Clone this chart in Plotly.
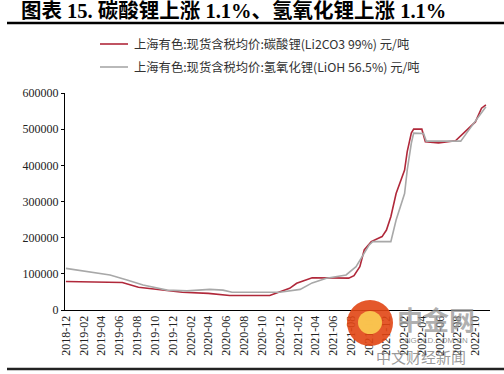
import plotly.graph_objects as go

# Lithium carbonate (Li2CO3 99%) price, yuan/ton
li2co3_dates = ["2018-12-01", "2019-03-01", "2019-06-12", "2019-08-06", "2019-10-19", "2020-01-03",
                "2020-04-01", "2020-06-13", "2020-10-28", "2020-12-01", "2021-01-04", "2021-01-28",
                "2021-03-01", "2021-03-22", "2021-07-25", "2021-08-12", "2021-09-01", "2021-09-16",
                "2021-10-10", "2021-11-16", "2021-12-01", "2021-12-16", "2022-01-03", "2022-01-21",
                "2022-02-01", "2022-02-10", "2022-02-24", "2022-03-04", "2022-04-01", "2022-04-13",
                "2022-05-28", "2022-07-25", "2022-08-28", "2022-10-01", "2022-10-22", "2022-11-06"]
li2co3_vals = [79000, 77000, 76000, 63000, 57000, 49000,
               46000, 40000, 40000, 49000, 60000, 74000,
               83000, 89000, 88000, 95000, 120000, 166000,
               189000, 203000, 221000, 258000, 322000, 359000,
               387000, 438000, 489000, 500000, 500000, 465000,
               462000, 468000, 493000, 520000, 558000, 567000]

# Lithium hydroxide (LiOH 56.5%) price, yuan/ton
lioh_dates = ["2018-12-01", "2019-02-24", "2019-05-01", "2019-06-28", "2019-08-22", "2019-11-12",
              "2020-01-19", "2020-04-06", "2020-05-21", "2020-06-21", "2020-12-01", "2021-02-09",
              "2021-03-22", "2021-05-10", "2021-07-16", "2021-08-19", "2021-10-03", "2021-10-15",
              "2021-12-16", "2022-01-03", "2022-01-21", "2022-02-01", "2022-02-10", "2022-02-24",
              "2022-03-04", "2022-04-07", "2022-04-16", "2022-08-12", "2022-09-09", "2022-10-13",
              "2022-11-06"]
lioh_vals = [115000, 106000, 97000, 83000, 69000, 55000,
             53000, 57000, 55000, 49000, 49000, 57000,
             75000, 88000, 97000, 120000, 180000, 189000,
             189000, 249000, 295000, 322000, 387000, 461000,
             489000, 488000, 467000, 467000, 498000, 534000,
             562000]

y_ticks = [0, 100000, 200000, 300000, 400000, 500000, 600000]

title_text = "图表 15. 碳酸锂上涨 1.1%、氢氧化锂上涨 1.1%"
name_red = "上海有色:现货含税均价:碳酸锂(Li2CO3 99%) 元/吨"
name_gray = "上海有色:现货含税均价:氢氧化锂(LiOH 56.5%) 元/吨"

RED = "#B0283A"
GRAY = "#A8A8A8"
font_main = "Noto Sans CJK SC"

fig = go.Figure()
fig.add_trace(go.Scatter(x=li2co3_dates, y=li2co3_vals, mode="lines", name=name_red,
                         line=dict(color=RED, width=1.6)))
fig.add_trace(go.Scatter(x=lioh_dates, y=lioh_vals, mode="lines", name=name_gray,
                         line=dict(color=GRAY, width=1.6)))

# plot area in page pixels: x 65..490, y 93..310
def px_x(p):
    return (p - 65) / 425.0

def px_y(p):
    return (310 - p) / 217.0

annotations = [
    dict(text="<b>" + title_text + "</b>", xref="paper", yref="paper",
         x=px_x(19), y=px_y(10), xanchor="left", yanchor="middle", showarrow=False,
         font=dict(family="Liberation Serif, Noto Sans CJK SC", size=20.5, color="black")),
    dict(text=name_red, xref="paper", yref="paper", x=px_x(132), y=px_y(44),
         xanchor="left", yanchor="middle", showarrow=False,
         font=dict(family=font_main, size=12.3, color="#333")),
    dict(text=name_gray, xref="paper", yref="paper", x=px_x(132), y=px_y(67),
         xanchor="left", yanchor="middle", showarrow=False,
         font=dict(family=font_main, size=12.3, color="#333")),
    dict(text="<b>中金网</b>", xref="paper", yref="paper", x=px_x(395), y=px_y(318),
         xanchor="left", yanchor="middle", showarrow=False,
         font=dict(family=font_main, size=26, color="rgba(150,150,150,0.75)")),
    dict(text="CNGOLD.COM.CN", xref="paper", yref="paper", x=px_x(397), y=px_y(340),
         xanchor="left", yanchor="middle", showarrow=False,
         font=dict(family="Liberation Sans", size=8, color="rgba(120,120,120,0.8)")),
    dict(text="中文财经新闻", xref="paper", yref="paper", x=px_x(374), y=px_y(356),
         xanchor="left", yanchor="middle", showarrow=False,
         font=dict(family=font_main, size=15, color="rgba(120,120,120,0.75)")),
]

shapes = [
    dict(type="line", xref="paper", yref="paper", x0=px_x(7), x1=px_x(504), y0=px_y(23), y1=px_y(23),
         line=dict(color="black", width=2.5)),
    dict(type="line", xref="paper", yref="paper", x0=px_x(7), x1=px_x(504), y0=px_y(369), y1=px_y(369),
         line=dict(color="#222", width=2.5)),
    dict(type="line", xref="paper", yref="paper", x0=px_x(100), x1=px_x(128), y0=px_y(44), y1=px_y(44),
         line=dict(color=RED, width=1.6)),
    dict(type="line", xref="paper", yref="paper", x0=px_x(100), x1=px_x(128), y0=px_y(67), y1=px_y(67),
         line=dict(color=GRAY, width=1.6)),
    dict(type="circle", xref="paper", yref="paper", x0=px_x(347), x1=px_x(393), y0=px_y(346), y1=px_y(300),
         fillcolor="rgba(225,70,20,0.9)", line=dict(width=0)),
    dict(type="circle", xref="paper", yref="paper", x0=px_x(358), x1=px_x(382), y0=px_y(334), y1=px_y(311),
         fillcolor="rgba(250,200,80,0.95)", line=dict(width=0)),
]

fig.update_layout(
    width=504, height=374,
    margin=dict(l=65, r=14, t=93, b=64, autoexpand=False),
    paper_bgcolor="white", plot_bgcolor="white",
    showlegend=False,
    xaxis=dict(type="date", range=["2018-11-28", "2022-11-20"],
               tickformat="%Y-%m", dtick="M2", tick0="2018-12-01",
               tickangle=-90, showgrid=False, showline=True, linecolor="black", linewidth=1,
               ticks="", tickfont=dict(family="Liberation Serif", size=12, color="#222"),
               zeroline=False, automargin=False),
    yaxis=dict(range=[0, 600000], tickvals=y_ticks, ticktext=[str(v) for v in y_ticks],
               showgrid=False, showline=True, linecolor="black", linewidth=1,
               ticks="outside", ticklen=3, tickcolor="black",
               tickfont=dict(family="Liberation Serif", size=12, color="#222"),
               zeroline=False, automargin=False),
    annotations=annotations,
    shapes=shapes,
)

fig.write_html("out.html", config={"displayModeBar": False},
               post_script="document.body.style.margin='0px';document.body.style.overflow='hidden';")
